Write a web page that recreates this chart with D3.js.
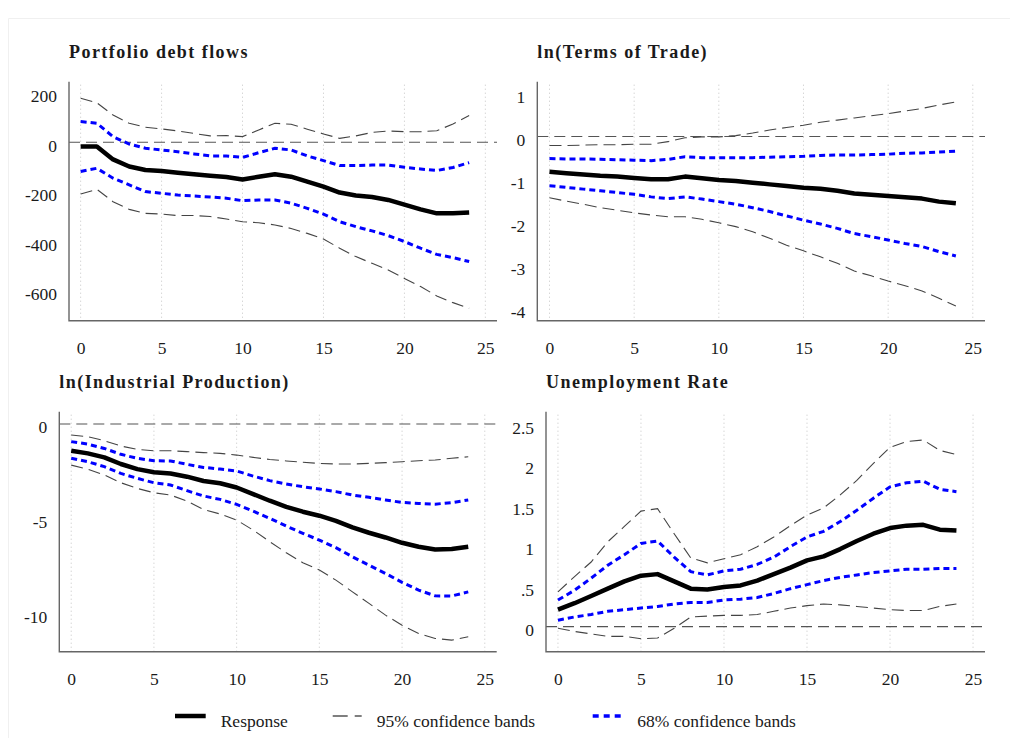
<!DOCTYPE html>
<html><head><meta charset="utf-8">
<script src="https://cdn.jsdelivr.net/npm/d3@7"></script>
<style>
body{margin:0;background:#fff;}
svg{display:block;}
text{font-family:"Liberation Serif","Times New Roman",serif;fill:#1a1a1a;}
</style>
</head><body>
<svg id="chart" width="1010" height="738"></svg>
<script>
// ---------- data ----------
const horizons = [0,1,2,3,4,5,6,7,8,9,10,11,12,13,14,15,16,17,18,19,20,21,22,23,24];
const xTicks = [0,5,10,15,20,25];

const pdfResp = [-17,-17,-69,-98,-112,-116,-123,-129,-135,-140,-150,-139,-129,-139,-159,-179,-203,-215,-221,-233,-252,-271,-287,-287,-284];
const pdfUp95 = [178,160,110,77,61,54,46,36,26,27,23,50,77,73,53,34,16,26,40,46,43,43,47,74,108];
const pdfUp68 = [84,77,23,-7,-24,-31,-38,-47,-55,-55,-61,-42,-24,-31,-55,-74,-94,-94,-92,-92,-101,-108,-114,-102,-82];
const pdfLo68 = [-118,-105,-145,-172,-199,-206,-213,-217,-221,-226,-236,-233,-233,-246,-267,-290,-321,-341,-358,-377,-401,-428,-453,-466,-482];
const pdfLo95 = [-209,-190,-240,-271,-287,-290,-296,-296,-300,-310,-321,-325,-334,-348,-368,-391,-428,-462,-489,-516,-550,-583,-621,-648,-671];
const pdfYTicks = [200,0,-200,-400,-600];
const pdfYLabels = ["200","0","-200","-400","-600"];

const totResp = [-0.82,-0.85,-0.88,-0.91,-0.93,-0.96,-0.99,-0.99,-0.93,-0.97,-1.01,-1.03,-1.07,-1.11,-1.15,-1.19,-1.21,-1.26,-1.32,-1.35,-1.38,-1.41,-1.44,-1.51,-1.55];
const totUp95 = [-0.21,-0.21,-0.20,-0.19,-0.19,-0.18,-0.18,-0.12,-0.03,-0.01,-0.01,0.02,0.08,0.15,0.21,0.26,0.33,0.38,0.43,0.48,0.53,0.59,0.65,0.73,0.80];
const totUp68 = [-0.51,-0.52,-0.52,-0.53,-0.54,-0.55,-0.56,-0.53,-0.47,-0.49,-0.49,-0.49,-0.49,-0.48,-0.47,-0.46,-0.44,-0.43,-0.43,-0.42,-0.41,-0.39,-0.38,-0.36,-0.34];
const totLo68 = [-1.14,-1.18,-1.22,-1.26,-1.30,-1.34,-1.40,-1.44,-1.40,-1.45,-1.51,-1.57,-1.65,-1.74,-1.84,-1.94,-2.03,-2.13,-2.25,-2.32,-2.40,-2.48,-2.55,-2.67,-2.77];
const totLo95 = [-1.42,-1.50,-1.57,-1.65,-1.71,-1.77,-1.82,-1.86,-1.86,-1.92,-2.00,-2.09,-2.21,-2.36,-2.52,-2.65,-2.79,-2.94,-3.12,-3.23,-3.35,-3.46,-3.58,-3.75,-3.93];
const totYTicks = [1,0,-1,-2,-3,-4];
const totYLabels = ["1","0","-1","-2","-3","-4"];

const ipResp = [-1.41,-1.55,-1.76,-2.11,-2.38,-2.55,-2.61,-2.78,-3.01,-3.13,-3.35,-3.70,-4.05,-4.37,-4.63,-4.84,-5.11,-5.46,-5.74,-5.99,-6.27,-6.48,-6.62,-6.60,-6.48];
const ipUp95 = [-0.58,-0.67,-0.88,-1.16,-1.34,-1.41,-1.41,-1.46,-1.51,-1.55,-1.64,-1.76,-1.87,-1.95,-2.02,-2.08,-2.11,-2.11,-2.08,-2.04,-1.99,-1.94,-1.90,-1.81,-1.73];
const ipUp68 = [-0.93,-1.06,-1.29,-1.60,-1.81,-1.94,-1.95,-2.13,-2.29,-2.38,-2.48,-2.75,-2.99,-3.17,-3.31,-3.43,-3.57,-3.75,-3.87,-4.01,-4.14,-4.19,-4.23,-4.15,-4.01];
const ipLo68 = [-1.81,-1.99,-2.25,-2.61,-2.87,-3.10,-3.22,-3.52,-3.80,-3.98,-4.24,-4.60,-4.98,-5.39,-5.77,-6.13,-6.53,-7.01,-7.45,-7.89,-8.36,-8.77,-9.07,-9.08,-8.86];
const ipLo95 = [-2.17,-2.39,-2.69,-3.10,-3.40,-3.63,-3.75,-4.07,-4.51,-4.75,-5.07,-5.60,-6.21,-6.80,-7.32,-7.71,-8.24,-8.86,-9.47,-10.09,-10.62,-11.06,-11.32,-11.41,-11.23];
const ipYTicks = [0,-5,-10];
const ipYLabels = ["0","-5","-10"];

const urResp = [0.21,0.29,0.38,0.47,0.56,0.63,0.65,0.56,0.47,0.46,0.49,0.51,0.57,0.65,0.73,0.82,0.87,0.96,1.06,1.15,1.22,1.25,1.26,1.20,1.19];
const urUp95 = [0.43,0.62,0.80,1.05,1.24,1.43,1.46,1.15,0.85,0.79,0.84,0.89,0.99,1.11,1.25,1.38,1.47,1.63,1.81,2.02,2.22,2.29,2.31,2.18,2.13];
const urUp68 = [0.33,0.45,0.60,0.76,0.89,1.03,1.06,0.86,0.68,0.64,0.69,0.71,0.77,0.86,0.99,1.11,1.18,1.30,1.44,1.59,1.73,1.78,1.80,1.70,1.67];
const urLo68 = [0.08,0.12,0.15,0.19,0.21,0.23,0.25,0.28,0.30,0.30,0.33,0.34,0.36,0.41,0.47,0.52,0.57,0.61,0.64,0.67,0.69,0.71,0.71,0.72,0.72];
const urLo95 = [-0.02,-0.06,-0.09,-0.12,-0.12,-0.15,-0.14,-0.02,0.12,0.13,0.14,0.14,0.15,0.19,0.23,0.26,0.28,0.27,0.25,0.23,0.21,0.20,0.20,0.25,0.28];
const urYTicks = [2.5,2,1.5,1,0.5,0];
const urYLabels = ["2.5","2","1.5","1",".5","0"];

const titles = ["Portfolio debt flows","ln(Terms of Trade)","ln(Industrial Production)","Unemployment Rate"];
const legendLabels = ["Response","95% confidence bands","68% confidence bands"];

// ---------- layout ----------
const panels = [
  {title:titles[0], resp:pdfResp, up95:pdfUp95, lo95:pdfLo95, up68:pdfUp68, lo68:pdfLo68, yt:pdfYTicks, yl:pdfYLabels,
   yDom:[-721,245], box:{l:69, r:497, t:81.7, b:320.7}},
  {title:titles[1], resp:totResp, up95:totUp95, lo95:totLo95, up68:totUp68, lo68:totLo68, yt:totYTicks, yl:totYLabels,
   yDom:[-4.27,1.27], box:{l:537.3, r:985, t:81.7, b:320.7}},
  {title:titles[2], resp:ipResp, up95:ipUp95, lo95:ipLo95, up68:ipUp68, lo68:ipLo68, yt:ipYTicks, yl:ipYLabels,
   yDom:[-12.02,0.65], box:{l:59.3, r:496.7, t:411.7, b:651.7}},
  {title:titles[3], resp:urResp, up95:urUp95, lo95:urLo95, up68:urUp68, lo68:urLo68, yt:urYTicks, yl:urYLabels,
   yDom:[-0.31,2.66], box:{l:546, r:985, t:411.7, b:651.7}}
];

const svg = d3.select("#chart");
svg.append("rect").attr("x",0).attr("y",0).attr("width",1010).attr("height",738).attr("fill","#fff");
svg.append("path").attr("d","M8.5,738 V18.5 H1010").attr("fill","none").attr("stroke","#f0f0f0").attr("stroke-width",1);

const gray = "#555";
const blue = "#0000ff";

panels.forEach(p => {
  const b = p.box;
  const x = d3.scaleLinear().domain([-0.72,25.72]).range([b.l,b.r]);
  const y = d3.scaleLinear().domain(p.yDom).range([b.b,b.t]);
  const g = svg.append("g");

  // grid
  g.selectAll(".grid").data(xTicks).join("line")
    .attr("x1",d=>x(d)).attr("x2",d=>x(d)).attr("y1",b.t+3).attr("y2",b.b)
    .attr("stroke","#c4c4c4").attr("stroke-width",1).attr("stroke-dasharray","1,3");

  // zero line
  g.append("line").attr("x1",b.l).attr("x2",b.r).attr("y1",y(0)).attr("y2",y(0))
    .attr("stroke",gray).attr("stroke-width",1.1).attr("stroke-dasharray","11,6");

  // axes (no tick marks)
  const yAxis = d3.axisLeft(y).tickValues(p.yt).tickSize(0).tickPadding(12).tickFormat((d,i)=>p.yl[i]);
  const ya = g.append("g").attr("transform",`translate(${b.l},0)`).call(yAxis)
    .attr("font-family",null).attr("font-size",null);
  ya.select(".domain").remove();
  ya.selectAll("text").attr("font-size","17.5px").attr("dy","0.85em").attr("y",-6).attr("fill","#1a1a1a");

  const xAxis = d3.axisBottom(x).tickValues(xTicks).tickSize(0).tickPadding(21);
  const xa = g.append("g").attr("transform",`translate(0,${b.b})`).call(xAxis)
    .attr("font-family",null).attr("font-size",null);
  xa.select(".domain").remove();
  xa.selectAll("text").attr("font-size","17.5px").attr("fill","#1a1a1a");

  g.append("path").attr("d",`M${b.l},${b.t} V${b.b} H${b.r}`)
    .attr("fill","none").attr("stroke","#666").attr("stroke-width",1.4);

  const line = d3.line().x((d,i)=>x(horizons[i])).y(d=>y(d));

  [p.up95,p.lo95].forEach(s=>{
    g.append("path").attr("d",line(s)).attr("fill","none")
      .attr("stroke","#444").attr("stroke-width",1.1).attr("stroke-dasharray","12,6");
  });
  [p.up68,p.lo68].forEach(s=>{
    g.append("path").attr("d",line(s)).attr("fill","none")
      .attr("stroke",blue).attr("stroke-width",3).attr("stroke-dasharray","6,4");
  });
  g.append("path").attr("d",line(p.resp)).attr("fill","none")
    .attr("stroke","#000").attr("stroke-width",4.5).attr("stroke-linejoin","round");

  g.append("text").attr("x",b.l).attr("y",b.t-23.4).text(p.title)
    .attr("font-size","18px").attr("font-weight","bold").attr("letter-spacing","1.45px");
});

// ---------- legend ----------
const lg = svg.append("g");
lg.append("line").attr("x1",175).attr("x2",205.7).attr("y1",716).attr("y2",716)
  .attr("stroke","#000").attr("stroke-width",4.5);
lg.append("text").attr("x",220.7).attr("y",727).attr("font-size","17.5px").text(legendLabels[0]);
lg.append("line").attr("x1",332.7).attr("x2",361.7).attr("y1",716).attr("y2",716)
  .attr("stroke",gray).attr("stroke-width",1.4).attr("stroke-dasharray","15,7");
lg.append("text").attr("x",376.7).attr("y",727).attr("font-size","17.5px").text(legendLabels[1]);
lg.append("line").attr("x1",592.7).attr("x2",620.7).attr("y1",716).attr("y2",716)
  .attr("stroke",blue).attr("stroke-width",3.5).attr("stroke-dasharray","6,5");
lg.append("text").attr("x",637.3).attr("y",727).attr("font-size","17.5px").text(legendLabels[2]);
</script>
</body></html>
